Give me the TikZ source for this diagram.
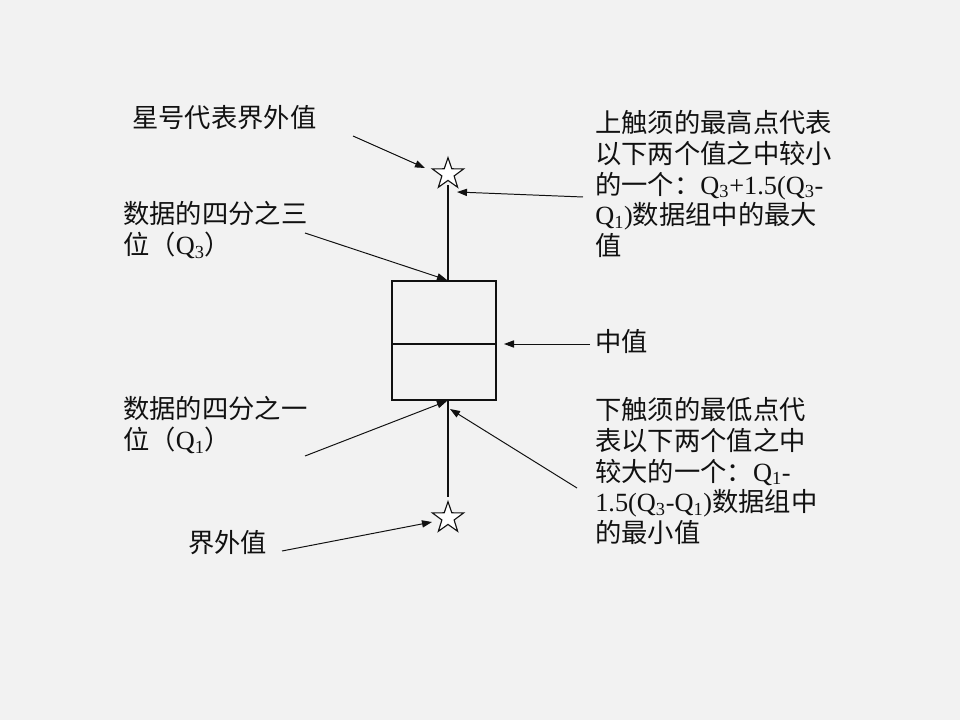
\documentclass[tikz,border=0pt]{standalone}
\usepackage{fontspec}
\setmainfont{Liberation Serif}
\newfontfamily\cjk{Noto Sans CJK SC}
\usetikzlibrary{arrows.meta,positioning,shapes.geometric}
\definecolor{bgc}{HTML}{F2F2F2}
\definecolor{ink}{HTML}{111111}
\newcommand{\qs}[1]{{\rmfamily Q\textsubscript{#1}}}
\newcommand{\lat}[1]{{\rmfamily #1}}

\begin{document}
\begin{tikzpicture}[
  x=0.025cm, y=-0.025cm,
  >={Triangle[length=2.5mm,width=1.8mm]},
  lbl/.style={anchor=west, inner sep=0pt, align=left, text=ink, font=\cjk\fontsize{18.7}{22}\selectfont},
  boxline/.style={draw=ink, line width=0.9pt},
  arr/.style={->, draw=ink, line width=0.7pt},
  outlier/.style={star, star points=5, star point ratio=2.55, minimum size=0.82cm, inner sep=0pt, draw=ink, line width=0.8pt, fill=white},
]

\fill[bgc] (0,0) rectangle (960,720);

\node[boxline, minimum width=2.6cm, minimum height=2.975cm, inner sep=0pt] (box) at (444,340.5) {};
\node[outlier] (ustar) at (448,174) {};
\node[outlier] (lstar) at (448,518) {};

\coordinate (uwtop) at (448,185);
\coordinate (lwbot) at (448,497);
\draw[boxline] (box.west |- 0,344) -- (box.east |- 0,344);
\draw[boxline] (box.north -| uwtop) -- (uwtop);
\draw[boxline] (box.south -| lwbot) -- (lwbot);

\node[lbl] (outlbl) at (132,118) {星号代表界外值};
\node[lbl] (q3lbl) at (123,230) {数据的四分之三\\位（\qs{3}）};
\node[lbl] (q1lbl) at (123,425) {数据的四分之一\\位（\qs{1}）};
\node[lbl] (lowlbl) at (188,543) {界外值};
\node[lbl] (medlbl) at (595,342) {中值};
\node[lbl] (uplbl) at (595,184) {上触须的最高点代表\\以下两个值之中较小\\的一个：\qs{3}\lat{+1.5(}\qs{3}\lat{-}\\\qs{1}\lat{)}数据组中的最大\\值};
\node[lbl] (lolbl) at (595,471) {下触须的最低点代\\表以下两个值之中\\较大的一个：\qs{1}\lat{-}\\\lat{1.5(}\qs{3}\lat{-}\qs{1}\lat{)}数据组中\\的最小值};

\coordinate (s1) at (353,136);
\coordinate (e1) at (425,168);
\coordinate (s2) at (583,197);
\coordinate (e2) at (457,192);
\coordinate (s3) at (305,233);
\coordinate (e3) at (447,280);
\coordinate (s4) at (590,344);
\coordinate (e4) at (504,344);
\coordinate (s5) at (305,456);
\coordinate (e5) at (447,401);
\coordinate (s6) at (577,488);
\coordinate (e6) at (450,409);
\coordinate (s7) at (282,551);
\coordinate (e7) at (432,522);

\draw[arr] (s1) -- (e1);
\draw[arr] (s2) -- (e2);
\draw[arr] (s3) -- (e3);
\draw[arr] (s4) -- (e4);
\draw[arr] (s5) -- (e5);
\draw[arr] (s6) -- (e6);
\draw[arr] (s7) -- (e7);

\end{tikzpicture}
\end{document}
